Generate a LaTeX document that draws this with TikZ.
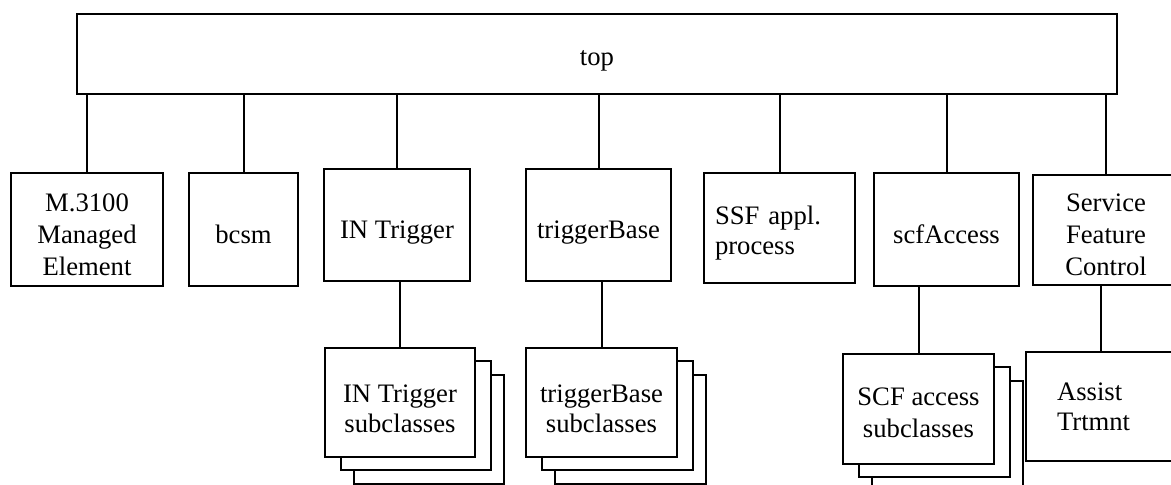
\documentclass[tikz,border=0pt]{standalone}
\usepackage{fontspec}
\setmainfont{Liberation Serif}
\usetikzlibrary{shadows}

\begin{document}
\begin{tikzpicture}[x=0.75pt,y=0.75pt,yscale=-1,xscale=1,
	box/.style={draw, line width=1.5pt, fill=white, inner sep=2pt, align=center, font=\fontsize{20}{24}\selectfont},
	one/.style={text height=20.5pt, text depth=0pt},
	pair/.style={font=\fontsize{20}{22.5}\selectfont},
	link/.style={line width=1.5pt},
	sheets/.style={general shadow={draw, fill=white, line width=1.5pt, shadow xshift=21.75pt, shadow yshift=-20.25pt},
		general shadow={draw, fill=white, line width=1.5pt, shadow xshift=12pt, shadow yshift=-9.75pt}}]
	\useasboundingbox (0,0) rectangle (1171,485);
	\clip (0,0) rectangle (1171,485);
	
	%Shape: top box
	\node [box, minimum width=780pt, minimum height=60pt, text height=16.5pt, text depth=0pt] (top) at (597,54) {top};
	
	%Shape: first row
	\node [box, text height=68.25pt, text depth=0pt, minimum width=114pt, minimum height=84.75pt] (m3100) at (87,229.5) {M.3100\\Managed\\Element};
	\node [box, one, minimum width=81.75pt, minimum height=84.75pt] (bcsm) at (243.5,229.5) {bcsm};
	\node [box, one, minimum width=109.5pt, minimum height=84pt] (intrig) at (397,225) {IN Trigger};
	\node [box, one, minimum width=108.75pt, minimum height=84pt] (trigbase) at (598.5,225) {triggerBase};
	\node [box, pair, text height=22pt, minimum width=113.25pt, minimum height=82.5pt, inner xsep=8.25pt, text width=96.75pt, align=left] (ssf) at (779.5,228) {SSF appl.\\process};
	\node [box, one, minimum width=108.75pt, minimum height=84.75pt] (scfacc) at (946.5,229.5) {scfAccess};
	\node [box, text height=67.5pt, text depth=0pt, minimum width=109.5pt, minimum height=82.5pt] (sfc) at (1106,230) {Service\\Feature\\Control};
	
	%Shape: second row
	\node [box, pair, sheets, text height=44.25pt, text depth=0pt, minimum width=112.5pt, minimum height=81.75pt] (insub) at (400,402.5) {IN Trigger\\subclasses};
	\node [box, pair, sheets, text height=44.25pt, text depth=0pt, minimum width=113.25pt, minimum height=81.75pt] (tbsub) at (601.5,402.5) {triggerBase\\subclasses};
	\node [box, sheets, text height=42pt, text depth=0pt, minimum width=113.25pt, minimum height=82.5pt] (scfsub) at (918.5,409) {SCF access\\subclasses};
	\node [box, pair, minimum width=112.5pt, minimum height=81.75pt, inner xsep=23.25pt, text width=66pt, align=left] (assist) at (1101,406.5) {Assist\\Trtmnt};
	
	%Straight Lines
	\foreach \n in {m3100,bcsm,intrig,trigbase,ssf,scfacc,sfc}
		\draw [link] (\n.north) -- (\n.north |- top.south);
	\draw [link] (intrig.south -| insub.north) -- (insub.north);
	\draw [link] (trigbase.south -| tbsub.north) -- (tbsub.north);
	\draw [link] (scfacc.south -| scfsub.north) -- (scfsub.north);
	\draw [link] (sfc.south -| assist.north) -- (assist.north);
	
\end{tikzpicture}
\end{document}
